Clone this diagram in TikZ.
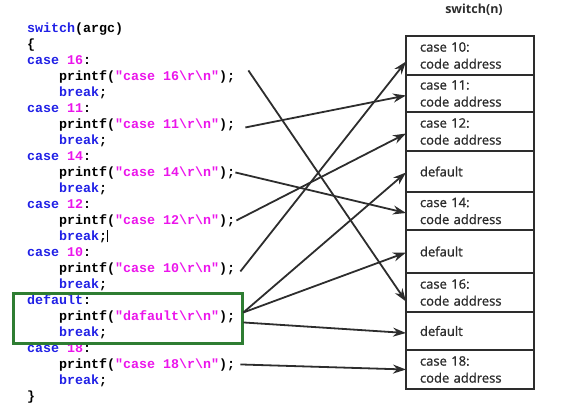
\documentclass[tikz,border=0pt]{standalone}
\usepackage{fontspec}
\setmainfont{Open Sans}
\setmonofont{Liberation Mono}
\newfontfamily\slotfont{Open Sans}[FakeBold=1.2]
\usetikzlibrary{positioning,calc,arrows.meta}

\definecolor{kwblue}{RGB}{32,32,230}
\definecolor{strpink}{RGB}{235,20,235}
\definecolor{boxgreen}{RGB}{46,125,50}
\definecolor{linegray}{RGB}{45,45,45}

\newcommand{\kw}[1]{\textcolor{kwblue}{#1}}
\newcommand{\lit}[1]{\textcolor{strpink}{#1}}
\newcommand{\bs}{\textbackslash}

\begin{document}
\begin{tikzpicture}
    [x=1pt, y=-1pt,
    code/.style={anchor=base west, inner sep=0pt,
        font=\ttfamily\bfseries\fontsize{13.33}{16}\selectfont},
    slot/.style={draw=linegray, line width=2pt, outer sep=0pt,
        text width=100pt, inner xsep=14pt, inner ysep=0pt, align=left,
        text=linegray, font=\slotfont\fontsize{13}{17}\selectfont},
    jump/.style={draw=linegray, line width=1.8pt,
        -{Stealth[length=13pt,width=9pt]}}
    ]
    \useasboundingbox (0,0) rectangle (566,407);

    % the source code
    \node (sw) [code] at (27,32) {\kw{switch}(argc)};
    \node (lb) [code] at (27,48) {\{};
    \node (c16) [code] at (27,64) {\kw{case} \lit{16}:};
    \node (p16) [code] at (59,80) {printf(\lit{"case 16\bs r\bs n"});};
    \node (b16) [code] at (59,96) {\kw{break};};
    \node (c11) [code] at (27,112) {\kw{case} \lit{11}:};
    \node (p11) [code] at (59,128) {printf(\lit{"case 11\bs r\bs n"});};
    \node (b11) [code] at (59,144) {\kw{break};};
    \node (c14) [code] at (27,160) {\kw{case} \lit{14}:};
    \node (p14) [code] at (59,176) {printf(\lit{"case 14\bs r\bs n"});};
    \node (b14) [code] at (59,192) {\kw{break};};
    \node (c12) [code] at (27,208) {\kw{case} \lit{12}:};
    \node (p12) [code] at (59,224) {printf(\lit{"case 12\bs r\bs n"});};
    \node (b12) [code] at (59,240) {\kw{break};\rule[-2pt]{1pt}{12pt}};
    \node (c10) [code] at (27,256) {\kw{case} \lit{10}:};
    \node (p10) [code] at (59,272) {printf(\lit{"case 10\bs r\bs n"});};
    \node (b10) [code] at (59,288) {\kw{break};};
    \node (cdef) [code] at (27,304) {\kw{default}:};
    \node (pdef) [code] at (59,320) {printf(\lit{"dafault\bs r\bs n"});};
    \node (bdef) [code] at (59,336) {\kw{break};};
    \node (c18) [code] at (27,352) {\kw{case} \lit{18}:};
    \node (p18) [code] at (59,368) {printf(\lit{"case 18\bs r\bs n"});};
    \node (b18) [code] at (59,384) {\kw{break};};
    \node (rb) [code] at (27,400) {\}};

    % the default branch
    \draw [boxgreen, line width=3pt] (13,293) rectangle (242,343);

    % the jump table
    \node (title) [text=linegray, font=\bfseries\fontsize{12.5}{14}\selectfont] at (474,10) {switch(n)};
    \node (r10) [slot, minimum height=39pt, anchor=north west] at (406,36) {case 10:\\code address};
    \node (r11) [slot, minimum height=37pt, below=0pt of r10] {case 11:\\code address};
    \node (r12) [slot, minimum height=39pt, below=0pt of r11] {case 12:\\code address};
    \node (rdef1) [slot, minimum height=41pt, below=0pt of r12] {default};
    \node (r14) [slot, minimum height=38pt, below=0pt of rdef1] {case 14:\\code address};
    \node (rdef2) [slot, minimum height=43pt, below=0pt of r14] {default};
    \node (r16) [slot, minimum height=39pt, below=0pt of rdef2] {case 16:\\code address};
    \node (rdef3) [slot, minimum height=38pt, below=0pt of r16] {default};
    \node (r18) [slot, minimum height=39pt, below=0pt of rdef3] {case 18:\\code address};

    % jumps
    \draw [jump] ($(p16.east)+(13,-6)$) -- ($(r16.west)+(0,9)$);
    \draw [jump] ($(p11.east)+(10,3)$) -- ($(r11.west)+(0,2)$);
    \draw [jump] (p14.east) -- ($(r14.west)+(0,2)$);
    \draw [jump] ($(p12.east)+(1,0)$) -- ($(r12.west)+(0,2)$);
    \draw [jump] ($(p10.east)+(5,3)$) -- ($(r10.west)+(0,6)$);
    \draw [jump] ($(pdef.east)+(8,-4)$) -- ($(rdef1.west)+(0,1)$);
    \draw [jump] ($(pdef.east)+(8,-4)$) -- ($(rdef2.west)+(0,1)$);
    \draw [jump] ($(pdef.east)+(8,6)$) -- ($(rdef3.west)+(0,2)$);
    \draw [jump] ($(p18.east)+(5,0)$) -- (r18.west);
\end{tikzpicture}
\end{document}
